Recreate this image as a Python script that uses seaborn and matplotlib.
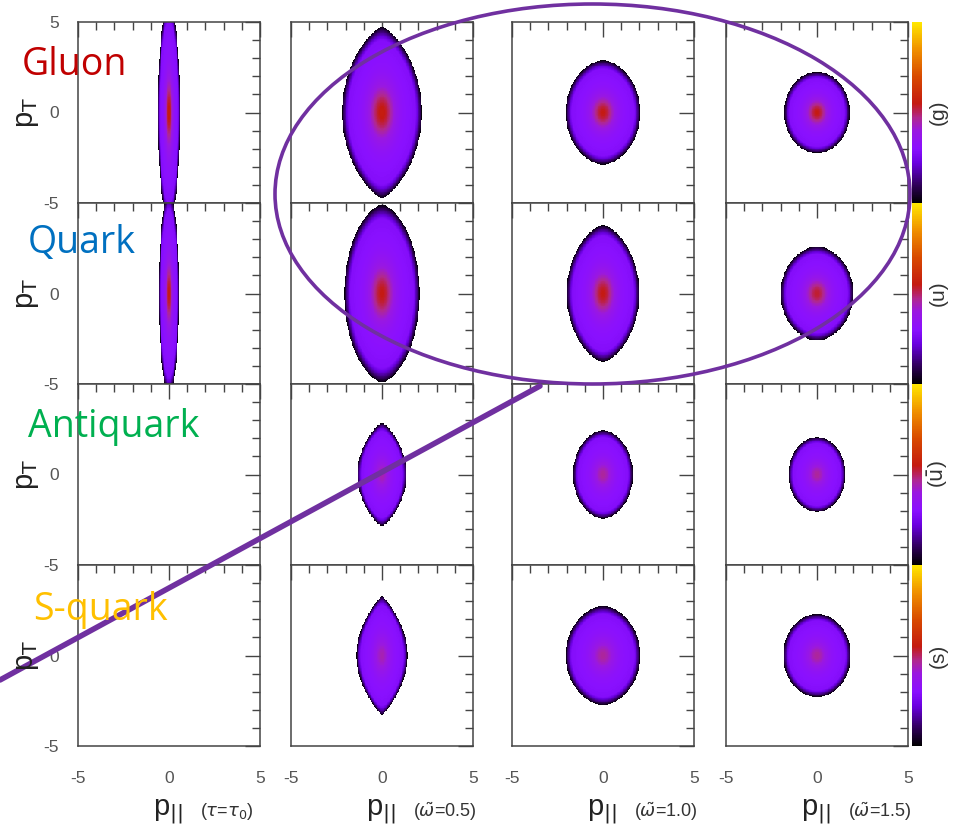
import numpy as np
import seaborn as sns
import matplotlib.pyplot as plt
from matplotlib.colors import LinearSegmentedColormap
from matplotlib.patches import Ellipse
from matplotlib.lines import Line2D

# --- data ----------------------------------------------------------------
species = ["Gluon", "Quark", "Antiquark", "S-quark"]
species_colors = ["#c00000", "#0070c0", "#00b050", "#ffc000"]
cbar_labels = ["(g)", "(u)", r"($\bar{\mathrm{u}}$)", "(s)"]
col_notes = [r"($\tau$=$\tau_0$)", r"($\tilde{\omega}$=0.5)",
             r"($\tilde{\omega}$=1.0)", r"($\tilde{\omega}$=1.5)"]

# half width in p_par, half height in p_T, tip sharpness (0.5 ellipse, 1 lens), peak colour value
half_width = [[0.60, 2.20, 2.05, 1.80],
              [0.55, 2.07, 2.00, 2.00],
              [np.nan, 1.35, 1.64, 1.56],
              [np.nan, 1.40, 2.05, 1.85]]
half_height = [[6.0, 4.75, 2.87, 2.25],
               [5.5, 4.90, 3.78, 2.60],
               [np.nan, 2.85, 2.45, 2.07],
               [np.nan, 3.30, 2.73, 2.30]]
tip = [[0.5, 0.75, 0.55, 0.5],
       [0.5, 0.60, 0.65, 0.55],
       [0.5, 0.80, 0.55, 0.5],
       [0.5, 0.95, 0.55, 0.5]]
peak = [[0.56, 0.56, 0.55, 0.55],
        [0.55, 0.55, 0.55, 0.53],
        [np.nan, 0.44, 0.46, 0.46],
        [np.nan, 0.44, 0.46, 0.46]]

major = [-5, 0, 5]
minor = [-4, -3, -2, -1, 1, 2, 3, 4]

N = 240
xs = -5 + (np.arange(N) + 0.5) * 10 / N
X, Y = np.meshgrid(xs, xs[::-1])


def blob(a, b, q, pk):
    Z = np.full((N, N), np.nan)
    if np.isnan(a):
        return Z
    u = Y / b
    ok = np.abs(u) < 1
    half = a * np.clip(1 - u**2, 1e-9, None) ** q
    w = X / half
    r2 = w**2 * (1 - u**2) + u**2
    ok &= r2 < 1
    rr = np.sqrt(np.clip(r2, 0, 1))
    core = 0.27 + 0.05 * (1 - r2) + (pk - 0.32) * np.exp(-r2 / 0.09)
    rim = np.clip((1 - rr) / 0.16, 0, 1) ** 0.8
    Z[ok] = (core * rim)[ok]
    return Z


cmap = LinearSegmentedColormap.from_list("gp", [
    (0.0, "#000000"), (0.1, "#30005a"), (0.22, "#6a00e0"), (0.3, "#8a10ff"),
    (0.4, "#9a18e0"), (0.47, "#b02890"), (0.55, "#c41a10"), (0.7, "#d84a00"),
    (0.85, "#f09000"), (1.0, "#ffe800")])

sns.set_style("white")
plt.rcParams["font.family"] = ["Liberation Sans", "DejaVu Sans"]

W, H = 961, 832
fig = plt.figure(figsize=(W / 100, H / 100), dpi=100)


def fx(px):
    return px / W


def fy(py):
    return 1 - py / H


col_left = [78, 291, 512, 726]
row_top = [22, 203, 384, 565]
pw, ph = 182, 181

for r in range(4):
    cax = fig.add_axes([fx(912), fy(row_top[r] + ph), 10 / W, ph / H])
    for c in range(4):
        ax = fig.add_axes([fx(col_left[c]), fy(row_top[r] + ph), pw / W, ph / H])
        Z = blob(half_width[r][c], half_height[r][c], tip[r][c], peak[r][c])
        sns.heatmap(Z, ax=ax, cmap=cmap, vmin=0, vmax=1,
                    cbar=(c == 3), cbar_ax=cax if c == 3 else None,
                    cbar_kws={"ticks": []},
                    xticklabels=False, yticklabels=False, rasterized=True)
        ax.set_xlim(0, N)
        ax.set_ylim(N, 0)
        ax.set_xticks([(v + 5) / 10 * N for v in major])
        ax.set_xticks([(v + 5) / 10 * N for v in minor], minor=True)
        ax.set_yticks([(5 - v) / 10 * N for v in major])
        ax.set_yticks([(5 - v) / 10 * N for v in minor], minor=True)
        if r == 3:
            ax.set_xticklabels([str(v) for v in major])
        else:
            ax.set_xticklabels([])
        if c == 0:
            ylab = [str(v) if (v < 5 or r == 0) else "" for v in major]
            ax.set_yticklabels(ylab, rotation=0)
        else:
            ax.set_yticklabels([])
        ax.tick_params(which="both", direction="in", top=True, right=True,
                       color="#444444", width=1, labelsize=12.5,
                       labelcolor="#555555")
        ax.tick_params(which="major", length=11)
        ax.tick_params(which="minor", length=5.5)
        ax.tick_params(axis="x", pad=18)
        ax.tick_params(axis="y", pad=14)
        for sp in ax.spines.values():
            sp.set_visible(True)
            sp.set_color("#444444")
            sp.set_linewidth(1.1)
    cax.set_yticks([])
    cb = cax.collections[0].colorbar if cax.collections else None
    if cb is not None:
        cb.outline.set_linewidth(0.6)
        cb.outline.set_edgecolor("#666666")
    yc = row_top[r] + ph / 2
    fig.text(fx(938), fy(yc), cbar_labels[r], rotation=90, ha="center",
             va="center", fontsize=15, color="#333333")
    fig.text(fx(27), fy(yc), r"p$_\mathrm{T}$", rotation=90, ha="center",
             va="center", fontsize=21, color="#222222")

# column labels
for c in range(4):
    xc = col_left[c] + pw / 2
    fig.text(fx(xc - 16), fy(815), r"p$_{||}$", ha="left", va="baseline",
             fontsize=21, color="#222222")
    fig.text(fx(xc + 31), fy(812), col_notes[c], ha="left", va="center",
             fontsize=13, color="#333333")

# species names
name_pos = [(22, 75), (28, 253), (28, 437), (33, 620)]
for name, col, (px, py) in zip(species, species_colors, name_pos):
    fig.text(fx(px), fy(py), name, color=col, fontsize=27,
             family=["Open Sans", "DejaVu Sans"], va="baseline", ha="left")

# highlight ellipse and pointer line
fig.add_artist(Ellipse((fx(592.5), fy(194)), 635 / W, 380 / H,
                       transform=fig.transFigure, fill=False,
                       edgecolor="#7030a0", lw=2.6))
fig.add_artist(Line2D([fx(0), fx(540)], [fy(680), fy(386)],
                      transform=fig.transFigure, color="#7030a0", lw=4))

fig.savefig("out.png", dpi=100)
